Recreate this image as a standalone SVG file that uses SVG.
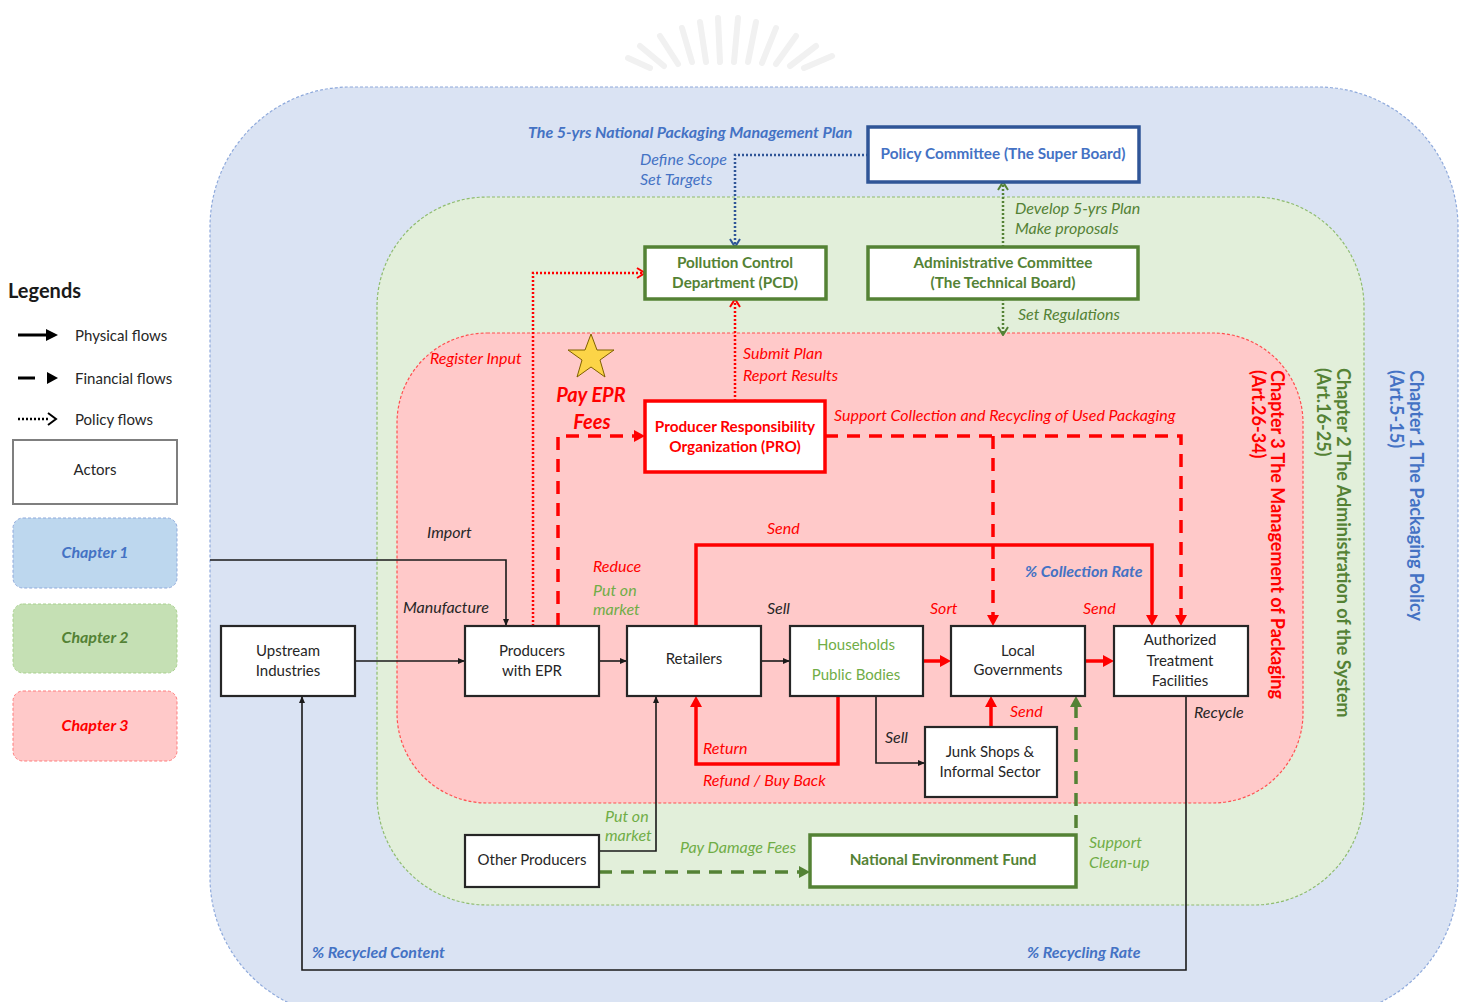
<svg xmlns="http://www.w3.org/2000/svg" width="1467" height="1002" viewBox="0 0 1467 1002">
<style>
text{font-family:Lato,"Open Sans","Liberation Sans",sans-serif}
.box{fill:#fff;stroke:#262626;stroke-width:2.2}
.gbox{fill:#fff;stroke:#548235;stroke-width:3.5}
.bbox{fill:#fff;stroke:#2f5597;stroke-width:3.5}
.rbox{fill:#fff;stroke:#ff0000;stroke-width:3.5}
.nt{font-size:15px;fill:#262626;text-anchor:middle}
.nt.hh{fill:#70ad47}
.bt{font-size:15.3px;font-weight:bold;text-anchor:middle}
.lbl{font-size:16px;font-style:italic}
.bi{font-size:16px;font-style:italic;font-weight:bold}
.red{fill:#ff0000}
.grn{fill:#548235}
.lgrn{fill:#70ad47}
.blu{fill:#4472c4}
.blk{fill:#262626}
.phys{fill:none;stroke:#1a1a1a;stroke-width:1.6}
.rsol{fill:none;stroke:#ff0000;stroke-width:3.5}
.rdash{fill:none;stroke:#ff0000;stroke-width:3.5;stroke-dasharray:13 9}
.gdash{fill:none;stroke:#548235;stroke-width:3.5;stroke-dasharray:13 9}
.rdot{fill:none;stroke:#ff0000;stroke-width:2.5;stroke-dasharray:2 2}
.bdot{fill:none;stroke:#2f5597;stroke-width:2.5;stroke-dasharray:2 2}
.gdot{fill:none;stroke:#548235;stroke-width:2.5;stroke-dasharray:2 2}
.vt{font-size:18px;font-weight:bold}
</style>
<defs>
<marker id="aK" markerUnits="userSpaceOnUse" viewBox="0 0 8 8" markerWidth="8" markerHeight="8" refX="7" refY="4" orient="auto"><path d="M0,1 L7,4 L0,7 z" fill="#1a1a1a"/></marker>
<marker id="aR" markerUnits="userSpaceOnUse" viewBox="0 0 12 12" markerWidth="12" markerHeight="12" refX="0" refY="6" orient="auto"><path d="M0,0 L11,6 L0,12 z" fill="#ff0000"/></marker>
<marker id="aG" markerUnits="userSpaceOnUse" viewBox="0 0 12 12" markerWidth="12" markerHeight="12" refX="0" refY="6" orient="auto"><path d="M0,0 L11,6 L0,12 z" fill="#548235"/></marker>
<marker id="cR" markerUnits="userSpaceOnUse" viewBox="0 0 10 12" markerWidth="10" markerHeight="12" refX="9" refY="6" orient="auto"><path d="M1,1 L9,6 L1,11" fill="none" stroke="#ff0000" stroke-width="2"/></marker>
<marker id="cB" markerUnits="userSpaceOnUse" viewBox="0 0 10 12" markerWidth="10" markerHeight="12" refX="9" refY="6" orient="auto"><path d="M1,1 L9,6 L1,11" fill="none" stroke="#2f5597" stroke-width="2"/></marker>
<marker id="cG" markerUnits="userSpaceOnUse" viewBox="0 0 10 12" markerWidth="10" markerHeight="12" refX="9" refY="6" orient="auto"><path d="M1,1 L9,6 L1,11" fill="none" stroke="#548235" stroke-width="2"/></marker>
</defs>

<rect width="1467" height="1002" fill="#fff"/>

<!-- faint watermark -->
<g id="watermark" stroke="#f1f1f1" stroke-width="6" stroke-linecap="round">
<path d="M650,68 L628,58"/><path d="M664,66 L640,46"/><path d="M678,64 L660,36"/><path d="M692,62 L682,28"/><path d="M706,62 L700,22"/><path d="M720,62 L718,18"/><path d="M734,62 L738,18"/><path d="M748,62 L756,22"/><path d="M762,63 L776,28"/><path d="M776,64 L796,36"/><path d="M790,66 L816,46"/><path d="M804,68 L832,56"/>
</g>

<!-- regions -->
<g id="regions">
<rect x="210" y="87" width="1248" height="930" rx="140" fill="#dae3f3" stroke="#8faadc" stroke-width="1.2" stroke-dasharray="3 2"/>
<rect x="377" y="197" width="987" height="708" rx="110" fill="#e2efda" stroke="#8fbc6f" stroke-width="1.2" stroke-dasharray="3 2"/>
<rect x="397" y="333" width="906" height="470" rx="90" fill="#ffc9c9" stroke="#ff5050" stroke-width="1.2" stroke-dasharray="3 2"/>
<text class="vt red" transform="translate(1271,370) rotate(90)">Chapter 3 The Management of Packaging</text>
<text class="vt red" transform="translate(1252,370) rotate(90)">(Art.26-34)</text>
<text class="vt grn" transform="translate(1337,368) rotate(90)">Chapter 2 The Administration of the System</text>
<text class="vt grn" transform="translate(1317,368) rotate(90)">(Art.16-25)</text>
<text class="vt blu" transform="translate(1410,370) rotate(90)">Chapter 1 The Packaging Policy</text>
<text class="vt blu" transform="translate(1390,370) rotate(90)">(Art.5-15)</text>
</g>

<!-- legend -->
<g id="legend">
<text x="8" y="298" font-size="20" font-weight="bold" fill="#1a1a1a">Legends</text>
<line x1="18" y1="335" x2="48" y2="335" stroke="#000" stroke-width="3"/>
<path d="M46,329 L58,335 L46,341 z" fill="#000"/>
<text x="75" y="341" font-size="15" fill="#262626">Physical flows</text>
<line x1="18" y1="378" x2="35" y2="378" stroke="#000" stroke-width="3"/>
<path d="M47,372 L58,378 L47,384 z" fill="#000"/>
<text x="75" y="384" font-size="15" fill="#262626">Financial flows</text>
<line x1="18" y1="419" x2="48" y2="419" stroke="#000" stroke-width="2.5" stroke-dasharray="2 2"/>
<path d="M48,413 L56,419 L48,425" fill="none" stroke="#000" stroke-width="2"/>
<text x="75" y="425" font-size="15" fill="#262626">Policy flows</text>
<rect x="13" y="440" width="164" height="64" fill="#fff" stroke="#7f7f7f" stroke-width="2"/>
<text x="95" y="475" class="nt">Actors</text>
<rect x="13" y="518" width="164" height="70" rx="10" fill="#bdd7ee" stroke="#8faadc" stroke-dasharray="3 2"/>
<text x="95" y="558" class="bi blu" text-anchor="middle" font-size="15.5">Chapter 1</text>
<rect x="13" y="604" width="164" height="69" rx="10" fill="#c5e0b4" stroke="#a9d18e" stroke-dasharray="3 2"/>
<text x="95" y="643" class="bi grn" text-anchor="middle" font-size="15.5">Chapter 2</text>
<rect x="13" y="691" width="164" height="70" rx="10" fill="#ffc9c9" stroke="#ff7c7c" stroke-dasharray="3 2"/>
<text x="95" y="731" class="bi red" text-anchor="middle" font-size="15.5">Chapter 3</text>
</g>

<!-- connectors -->
<g id="connectors">
<path class="bdot" d="M868,155 H735 V247" marker-end="url(#cB)"/>
<path class="gdot" d="M1003,247 V182" marker-end="url(#cG)"/>
<path class="gdot" d="M1003,299 V335" marker-end="url(#cG)"/>
<path class="rdot" d="M533,626 V273 H645" marker-end="url(#cR)"/>
<path class="rdot" d="M735,401 V299" marker-end="url(#cR)"/>
<path class="rdash" d="M558,626 V436 H634" marker-end="url(#aR)"/>
<path class="rdash" d="M825,436 H1181 V615" marker-end="url(#aR)"/>
<path class="rdash" d="M993,436 V615" marker-end="url(#aR)"/>
<path class="gdash" d="M599,872 H799" marker-end="url(#aG)"/>
<path class="gdash" d="M1076,828 V707" marker-end="url(#aG)"/>
<path class="rsol" d="M696,626 V545 H1152 V615" marker-end="url(#aR)"/>
<path class="rsol" d="M923,661 H940" marker-end="url(#aR)"/>
<path class="rsol" d="M1085,661 H1103" marker-end="url(#aR)"/>
<path class="rsol" d="M991,727 V707" marker-end="url(#aR)"/>
<path class="rsol" d="M838,696 V764 H696 V707" marker-end="url(#aR)"/>
<path class="phys" d="M210,560 H506 V626" marker-end="url(#aK)"/>
<path class="phys" d="M355,661 H465" marker-end="url(#aK)"/>
<path class="phys" d="M599,661 H627" marker-end="url(#aK)"/>
<path class="phys" d="M761,661 H790" marker-end="url(#aK)"/>
<path class="phys" d="M876,696 V763 H925" marker-end="url(#aK)"/>
<path class="phys" d="M599,851 H656 V696" marker-end="url(#aK)"/>
<path class="phys" d="M1186,696 V970 H302 V696" marker-end="url(#aK)"/>
</g>

<!-- labels -->
<g id="labels">
<text x="528" y="138" class="bi blu">The 5-yrs National Packaging Management Plan</text>
<text x="640" y="165" class="lbl blu">Define Scope</text>
<text x="640" y="185" class="lbl blu">Set Targets</text>
<text x="1015" y="214" class="lbl grn">Develop 5-yrs Plan</text>
<text x="1015" y="234" class="lbl grn">Make proposals</text>
<text x="1018" y="320" class="lbl grn">Set Regulations</text>
<text x="430" y="364" class="lbl red">Register Input</text>
<text x="743" y="359" class="lbl red">Submit Plan</text>
<text x="743" y="381" class="lbl red">Report Results</text>
<text x="834" y="421" class="lbl red">Support Collection and Recycling of Used Packaging</text>
<path d="M591,334 L597,350 L614,350 L600,360 L605,377 L591,367 L577,377 L582,360 L568,350 L585,350 z" fill="#fcd447" stroke="#7f6000" stroke-width="1"/>
<text x="591" y="402" font-size="20" font-weight="bold" font-style="italic" class="red" text-anchor="middle">Pay EPR</text>
<text x="592" y="429" font-size="20" font-weight="bold" font-style="italic" class="red" text-anchor="middle">Fees</text>
<text x="427" y="538" class="lbl blk">Import</text>
<text x="403" y="613" class="lbl blk">Manufacture</text>
<text x="593" y="572" class="lbl red">Reduce</text>
<text x="593" y="596" class="lbl lgrn">Put on</text>
<text x="593" y="615" class="lbl lgrn">market</text>
<text x="767" y="534" class="lbl red">Send</text>
<text x="767" y="614" class="lbl blk">Sell</text>
<text x="1025" y="577" class="bi blu">% Collection Rate</text>
<text x="930" y="614" class="lbl red">Sort</text>
<text x="1083" y="614" class="lbl red">Send</text>
<text x="1010" y="717" class="lbl red">Send</text>
<text x="1194" y="718" class="lbl blk">Recycle</text>
<text x="885" y="743" class="lbl blk">Sell</text>
<text x="703" y="754" class="lbl red">Return</text>
<text x="703" y="786" class="lbl red">Refund / Buy Back</text>
<text x="605" y="822" class="lbl lgrn">Put on</text>
<text x="605" y="841" class="lbl lgrn">market</text>
<text x="680" y="853" class="lbl lgrn">Pay Damage Fees</text>
<text x="1089" y="848" class="lbl lgrn">Support</text>
<text x="1089" y="868" class="lbl lgrn">Clean-up</text>
<text x="312" y="958" class="bi blu">% Recycled Content</text>
<text x="1027" y="958" class="bi blu">% Recycling Rate</text>
</g>

<!-- nodes -->
<g id="policy-committee"><rect class="bbox" x="868" y="127" width="271" height="55"/><text x="1003" y="159" class="bt" fill="#4472c4">Policy Committee (The Super Board)</text></g>
<g id="pcd"><rect class="gbox" x="645" y="247" width="181" height="52"/><text x="735" y="268" class="bt grn">Pollution Control</text><text x="735" y="288" class="bt grn">Department (PCD)</text></g>
<g id="admin-committee"><rect class="gbox" x="868" y="247" width="270" height="52"/><text x="1003" y="268" class="bt grn">Administrative Committee</text><text x="1003" y="288" class="bt grn">(The Technical Board)</text></g>
<g id="pro"><rect class="rbox" x="645" y="401" width="180" height="71"/><text x="735" y="432" class="bt red" font-size="14.7">Producer Responsibility</text><text x="735" y="452" class="bt red" font-size="14.7">Organization (PRO)</text></g>
<g id="upstream"><rect class="box" x="221" y="626" width="134" height="70"/><text x="288" y="656" class="nt">Upstream</text><text x="288" y="676" class="nt">Industries</text></g>
<g id="producers"><rect class="box" x="465" y="626" width="134" height="70"/><text x="532" y="656" class="nt">Producers</text><text x="532" y="676" class="nt">with EPR</text></g>
<g id="retailers"><rect class="box" x="627" y="626" width="134" height="70"/><text x="694" y="664" class="nt">Retailers</text></g>
<g id="households"><rect class="box" x="790" y="626" width="133" height="70"/><text x="856" y="650" class="nt hh">Households</text><text x="856" y="680" class="nt hh">Public Bodies</text></g>
<g id="local-gov"><rect class="box" x="951" y="626" width="134" height="70"/><text x="1018" y="656" class="nt">Local</text><text x="1018" y="675" class="nt">Governments</text></g>
<g id="atf"><rect class="box" x="1114" y="626" width="134" height="70"/><text x="1180" y="645" class="nt">Authorized</text><text x="1180" y="666" class="nt">Treatment</text><text x="1180" y="686" class="nt">Facilities</text></g>
<g id="junk-shops"><rect class="box" x="925" y="727" width="132" height="70"/><text x="990" y="757" class="nt">Junk Shops &amp;</text><text x="990" y="777" class="nt">Informal Sector</text></g>
<g id="other-producers"><rect class="box" x="465" y="835" width="134" height="52"/><text x="532" y="865" class="nt">Other Producers</text></g>
<g id="nef"><rect class="gbox" x="810" y="835" width="266" height="52"/><text x="943" y="865" class="bt grn">National Environment Fund</text></g>
</svg>
